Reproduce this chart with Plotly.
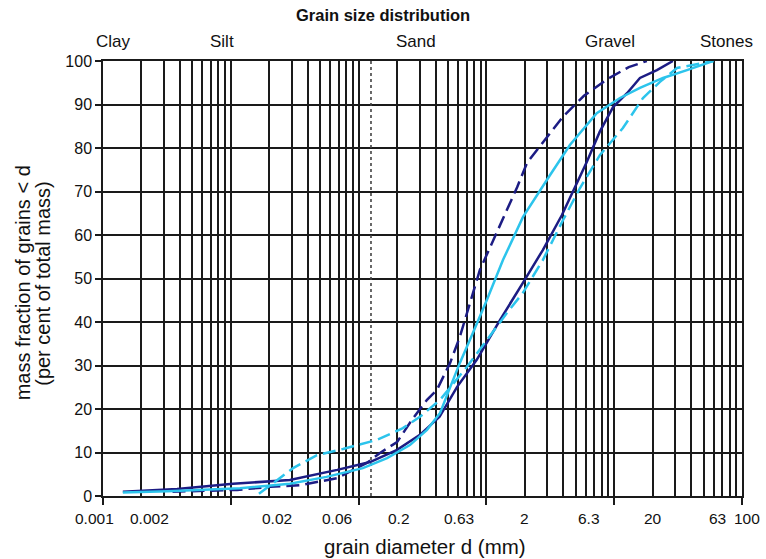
import math
import plotly.graph_objects as go

# Grain diameters (mm) and cumulative mass fractions (%) for four soil samples
navy_solid_d = [0.00143, 0.0038, 0.0104, 0.029, 0.068, 0.123, 0.2, 0.3, 0.43, 0.59, 0.84,
                1.28, 1.93, 2.77, 3.9, 4.8, 6.1, 7.7, 9.8, 12.6, 15.9, 21.6, 28.8]
navy_solid_v = [1.0, 1.6, 2.8, 3.7, 6.0, 7.8, 10.6, 14.0, 18.2, 25.1, 31.3,
                40.5, 49.0, 56.6, 64.6, 70.3, 76.8, 83.7, 89.4, 92.6, 96.1, 97.9, 100]

navy_dash_d = [0.0035, 0.0112, 0.0203, 0.035, 0.068, 0.116, 0.147, 0.2, 0.267, 0.343, 0.41,
               0.52, 0.62, 0.77, 0.89, 1.07, 1.23, 1.74, 2.08, 2.8, 4.0, 5.8, 8.8, 13.0, 18.0]
navy_dash_v = [1.0, 1.4, 2.1, 2.5, 4.1, 7.6, 9.9, 12.4, 17.9, 22.1, 24.4,
               30.6, 36.6, 45.7, 52.0, 57.2, 61.1, 71.0, 76.6, 81.5, 87.3, 92.0, 95.8, 98.6, 100]

cyan_solid_d = [0.00143, 0.0032, 0.0118, 0.029, 0.056, 0.108, 0.167, 0.252, 0.343, 0.434, 0.5,
                0.62, 0.785, 1.01, 1.35, 1.93, 3.15, 4.5, 7.3, 11.1, 15.9, 24.1, 37.1, 59.3]
cyan_solid_v = [0.8, 1.1, 1.8, 2.8, 4.4, 6.4, 8.7, 11.7, 15.2, 19.1, 23.7,
                30.6, 37.5, 45.1, 54.3, 64.1, 73.8, 80.7, 88.0, 91.5, 93.8, 96.1, 97.9, 100]

cyan_dash_d = [0.0166, 0.023, 0.0307, 0.0472, 0.0755, 0.139, 0.222, 0.302, 0.434, 0.705,
               1.45, 1.93, 2.77, 3.97, 5.4, 7.74, 11.7, 16.8, 22.8, 31.0, 60.0]
cyan_dash_v = [0.5, 3.7, 6.4, 9.4, 10.8, 12.9, 15.6, 18.2, 22.1, 29.7,
               42.1, 46.7, 54.3, 63.4, 70.8, 78.4, 84.6, 91.5, 95.2, 98.4, 100]

# Silt/sand boundary marker
boundary_d = 0.125

# Axis ticks
decades = [0.001, 0.01, 0.1, 1, 10, 100]
minor_vals = [m * 10 ** e for e in range(-3, 2) for m in range(2, 10)]
label_vals = [0.001, 0.002, 0.02, 0.06, 0.2, 0.63, 2, 6.3, 20, 63, 100]
label_text = ["0.001", "0.002", "0.02", "0.06", "0.2", "0.63", "2", "6.3", "20", "63", "100"]

# Soil class names across the top
classes = ["Clay", "Silt", "Sand", "Gravel", "Stones"]

NAVY = "#1c1c84"
CYAN = "#2cc4ec"
GRID = "#1a1a1a"
FONT = "Arial, Liberation Sans, sans-serif"

fig = go.Figure()

fig.add_trace(go.Scatter(x=[boundary_d, boundary_d], y=[0, 100], mode="lines",
                         line=dict(color="#444444", width=1.6, dash="dot"),
                         showlegend=False, hoverinfo="skip"))

series = [
    (navy_solid_d, navy_solid_v, NAVY, "solid"),
    (navy_dash_d, navy_dash_v, NAVY, "13px,6px"),
    (cyan_solid_d, cyan_solid_v, CYAN, "solid"),
    (cyan_dash_d, cyan_dash_v, CYAN, "13px,6px"),
]
for d, v, c, dash in series:
    fig.add_trace(go.Scatter(x=d, y=v, mode="lines",
                             line=dict(color=c, width=2.5, dash=dash),
                             showlegend=False))

fig.update_layout(
    width=766, height=559,
    margin=dict(l=103, r=24, t=61, b=63),
    paper_bgcolor="white", plot_bgcolor="white",
    font=dict(family=FONT, size=16, color="#111111"),
    xaxis=dict(
        type="log", range=[-3, 2],
        tickmode="array", tickvals=decades,
        ticks="outside", ticklen=7, tickwidth=1.5, tickcolor=GRID,
        showticklabels=False,
        showgrid=True, gridcolor=GRID, gridwidth=1.5,
        minor=dict(tickmode="array", tickvals=minor_vals, showgrid=True,
                   gridcolor=GRID, gridwidth=1.5, ticks=""),
        showline=True, linecolor=GRID, linewidth=1.5, mirror=True,
        zeroline=False,
    ),
    yaxis=dict(
        range=[0, 100], tickmode="linear", tick0=0, dtick=10,
        ticks="outside", ticklen=6, tickwidth=1.5, tickcolor=GRID,
        tickfont=dict(size=16, family=FONT),
        showgrid=True, gridcolor=GRID, gridwidth=1.5,
        showline=True, linecolor=GRID, linewidth=1.5, mirror=True,
        zeroline=False,
    ),
)

annotations = [
    dict(text="<b>Grain size distribution</b>", x=0.438, y=1.106, xref="paper", yref="paper",
         showarrow=False, font=dict(size=16.5, family=FONT), xanchor="center", yanchor="middle"),
    dict(text="grain diameter d (mm)", x=0.504, y=-0.117, xref="paper", yref="paper",
         showarrow=False, font=dict(size=20.5, family=FONT), xanchor="center", yanchor="middle"),
    dict(text="mass fraction of grains < d", x=-0.126, y=0.49,
         xref="paper", yref="paper", textangle=-90, showarrow=False,
         font=dict(size=20, family=FONT), xanchor="center", yanchor="middle"),
    dict(text="(per cent of total mass)", x=-0.094, y=0.49,
         xref="paper", yref="paper", textangle=-90, showarrow=False,
         font=dict(size=20, family=FONT), xanchor="center", yanchor="middle"),
]

# Class names sit above the plot frame
class_x = [0.017, 0.186, 0.490, 0.793, 0.975]
for name, px in zip(classes, class_x):
    annotations.append(dict(text=name, x=px, y=1.044, xref="paper", yref="paper",
                            showarrow=False, font=dict(size=17, family=FONT),
                            xanchor="center", yanchor="middle"))

# Diameter labels below the axis (annotation x on a log axis is log10 of the value),
# nudged sideways so neighbours don't collide
label_nudge = [-9, 8, 8, 7, 2, -2, 0, 0, 0, 1, 5]
for val, txt, dx in zip(label_vals, label_text, label_nudge):
    annotations.append(dict(text=txt, x=math.log10(val), y=0, xref="x", yref="paper",
                            xshift=dx, yshift=-22, showarrow=False,
                            font=dict(size=15.5, family=FONT),
                            xanchor="center", yanchor="middle"))
fig.update_layout(annotations=annotations)

fig.write_html("out.html")
